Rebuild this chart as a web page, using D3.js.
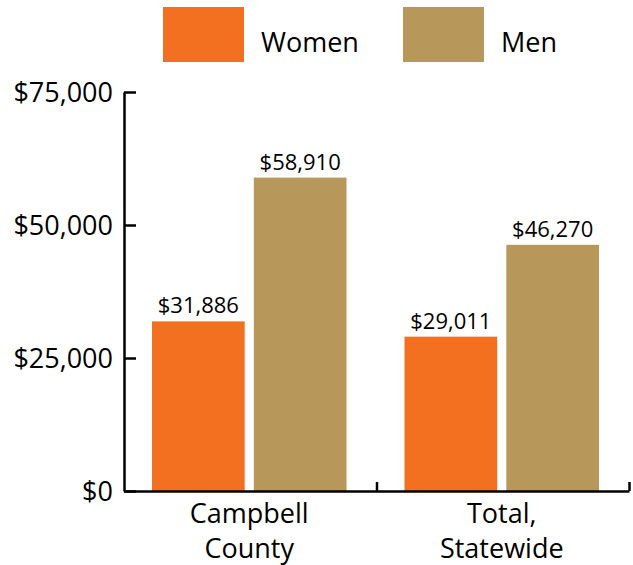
<!DOCTYPE html>
<html>
<head>
  <script src="https://cdn.jsdelivr.net/npm/d3@7"></script>
  <style>
    body { margin: 0; background: #fff; }
    text { font-family: "Open Sans", sans-serif; fill: #000; }
  </style>
</head>
<body>
  <svg id="chart" width="633" height="565"></svg>
  <script>
    // data
    var categories = [['Campbell', 'County'], ['Total,', 'Statewide']];
    var series = ['Women', 'Men'];
    var women = [31886, 29011];
    var men = [58910, 46270];
    var yTicks = [0, 25000, 50000, 75000];
    var colors = ['#F37021', '#B8975A'];

    var svg = d3.select('#chart');
    var mLeft = 124, mRight = 629, mTop = 92, mBottom = 491;

    var x0 = d3.scaleBand().domain(d3.range(categories.length)).range([mLeft, mRight]);
    var x1 = d3.scaleBand().domain(series).range([28, x0.bandwidth() - 30]).paddingInner(0.09);
    var y = d3.scaleLinear().domain([0, 75000]).range([mBottom, mTop]);

    var fmt = d3.format('$,');

    // bars
    var groups = svg.selectAll('.grp')
      .data(categories.map((c, i) => ({ i: i, vals: [women[i], men[i]] })))
      .enter().append('g')
      .attr('transform', d => 'translate(' + x0(d.i) + ',0)');

    groups.selectAll('rect')
      .data(d => d.vals.map((v, k) => ({ k: k, v: v })))
      .enter().append('rect')
      .attr('x', d => x1(series[d.k]))
      .attr('y', d => y(d.v))
      .attr('width', x1.bandwidth())
      .attr('height', d => mBottom - y(d.v))
      .attr('fill', d => colors[d.k]);

    groups.selectAll('.val')
      .data(d => d.vals.map((v, k) => ({ k: k, v: v })))
      .enter().append('text')
      .attr('x', d => x1(series[d.k]) + x1.bandwidth() / 2)
      .attr('y', d => y(d.v) - 8)
      .attr('text-anchor', 'middle')
      .attr('font-size', 22)
      .text(d => fmt(d.v));

    // y axis
    var yAxis = svg.append('g')
      .attr('transform', 'translate(' + mLeft + ',0)')
      .call(d3.axisLeft(y).tickValues(yTicks).tickFormat(fmt).tickSizeInner(-12).tickSizeOuter(0).tickPadding(11));
    yAxis.select('.domain').attr('stroke', '#000').attr('stroke-width', 2.5);
    yAxis.selectAll('.tick line').attr('stroke', '#000').attr('stroke-width', 2.5);
    yAxis.selectAll('.tick text').attr('font-size', 27).attr('font-family', '"Open Sans", sans-serif').attr('fill', '#000').attr('dy', '0.36em');

    // x axis
    var xAxis = svg.append('g')
      .attr('transform', 'translate(0,' + mBottom + ')')
      .call(d3.axisBottom(d3.scaleLinear().domain([0, 2]).range([mLeft, mRight])).tickValues([1, 2]).tickFormat('').tickSizeInner(-9).tickSizeOuter(0));
    xAxis.select('.domain').attr('stroke', '#000').attr('stroke-width', 2.5);
    xAxis.selectAll('.tick line').attr('stroke', '#000').attr('stroke-width', 2.5);

    // category labels
    categories.forEach((c, i) => {
      var cx = x0(i) + x1.range()[0] + (x1.range()[1] - x1.range()[0]) / 2;
      var t = svg.append('text')
        .attr('x', cx)
        .attr('y', 523)
        .attr('text-anchor', 'middle')
        .attr('font-size', 27);
      c.forEach((line, j) => {
        t.append('tspan')
          .attr('x', cx)
          .attr('dy', j == 0 ? 0 : 35)
          .text(line);
      });
    });

    // legend
    var legX = [163, 403];
    series.forEach((s, k) => {
      svg.append('rect')
        .attr('x', legX[k])
        .attr('y', 7)
        .attr('width', 81)
        .attr('height', 55)
        .attr('fill', colors[k]);
      svg.append('text')
        .attr('x', legX[k] + 98)
        .attr('y', 52)
        .attr('font-size', 27)
        .text(s);
    });
  </script>
</body>
</html>
